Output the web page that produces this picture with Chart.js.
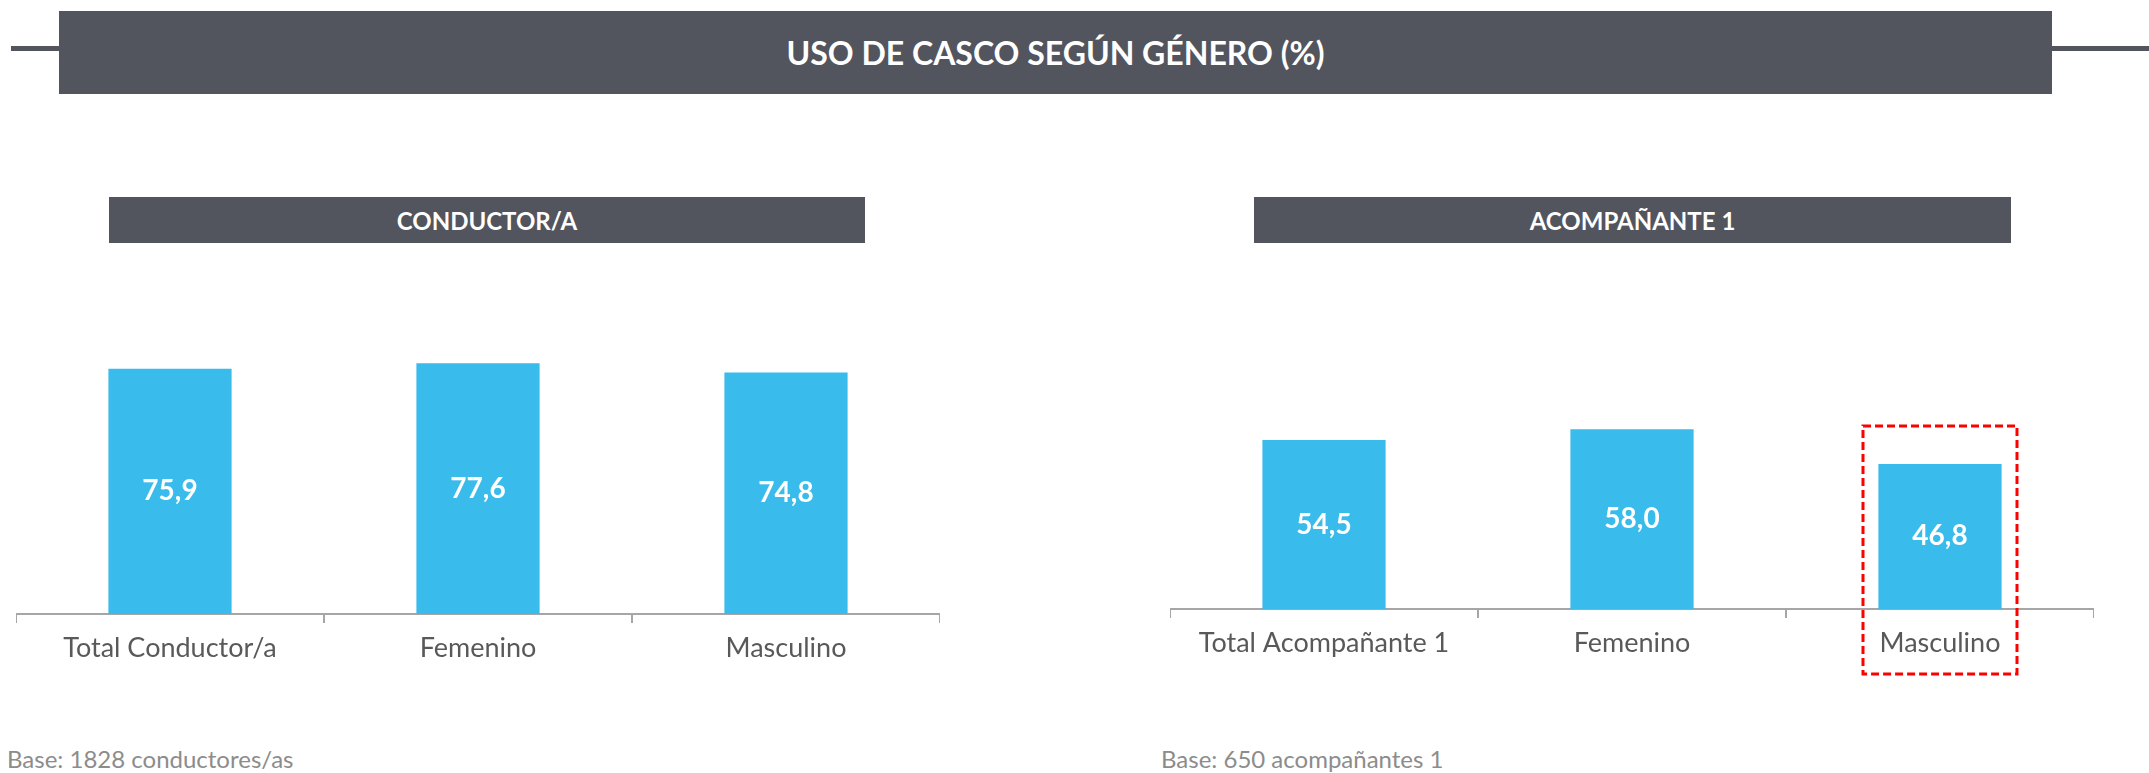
<!DOCTYPE html>
<html>
<head>
<meta charset="utf-8">
<script src="https://cdn.jsdelivr.net/npm/chart.js@4"></script>
<style>
  body { margin: 0; width: 2149px; height: 773px; background: #fff; position: relative; overflow: hidden; font-family: Lato, sans-serif; }
  .rule { position: absolute; top: 46px; height: 5px; background: #52545e; }
  .banner { position: absolute; background: #52545e; color: #fff; font-weight: bold; display: flex; align-items: center; justify-content: center; }
  .base { position: absolute; top: 744px; font-size: 24px; color: #8c8c8c; }
  canvas { position: absolute; }
</style>
</head>
<body>
<div class="rule" style="left:11px;width:50px"></div>
<div class="rule" style="left:2050px;width:99px"></div>
<div class="banner" style="left:59px;top:11px;width:1993px;height:83px;font-size:32px">USO DE CASCO SEGÚN GÉNERO (%)</div>
<div class="banner" style="left:109px;top:197px;width:756px;height:46px;font-size:24px">CONDUCTOR/A</div>
<div class="banner" style="left:1254px;top:197px;width:757px;height:46px;font-size:24px">ACOMPAÑANTE 1</div>
<div class="base" style="left:7px">Base: 1828 conductores/as</div>
<div class="base" style="left:1161px">Base: 650 acompañantes 1</div>

<div style="position:absolute;left:16px;top:291px;width:924px;height:395px"><canvas id="conductorChart"></canvas></div>
<div style="position:absolute;left:1170px;top:299px;width:924px;height:382px"><canvas id="acompChart"></canvas></div>

<script>
const conductorLabels = ['Total Conductor/a', 'Femenino', 'Masculino'];
const conductorValues = [75.9, 77.6, 74.8];
const acompLabels = ['Total Acompañante 1', 'Femenino', 'Masculino'];
const acompValues = [54.5, 58.0, 46.8];
const highlightIndex = 2; // Masculino, acompañante

// white value labels in the middle of each bar
const valueLabels = {
    id: 'valueLabels',
    afterDatasetsDraw(chart) {
        const ctx = chart.ctx;
        const bars = chart.getDatasetMeta(0).data;
        ctx.save();
        ctx.fillStyle = '#ffffff';
        ctx.font = 'bold 28px Lato';
        ctx.textAlign = 'center';
        ctx.textBaseline = 'middle';
        bars.forEach((bar, i) => {
            const v = chart.data.datasets[0].data[i];
            ctx.fillText(v.toFixed(1).replace('.', ','), bar.x, (bar.y + bar.base) / 2);
        });
        ctx.restore();
    }
};

// red dashed box around one category
const highlightBox = {
    id: 'highlightBox',
    afterDraw(chart, args, opts) {
        if (opts.index === undefined) return;
        const x = chart.scales.x;
        const bar = chart.getDatasetMeta(0).data[opts.index];
        const half = (x.width / chart.data.labels.length) * 0.25;
        const cx = x.getPixelForValue(opts.index);
        const ctx = chart.ctx;
        ctx.save();
        ctx.strokeStyle = '#ff0000';
        ctx.lineWidth = 3;
        ctx.setLineDash([8, 4]);
        ctx.strokeRect(cx - half, bar.y - 38, half * 2, chart.chartArea.bottom + 65 - (bar.y - 38));
        ctx.restore();
    }
};

function makeChart(id, labels, values, boxIndex) {
    const ctx = document.getElementById(id).getContext('2d');
    return new Chart(ctx, {
        type: 'bar',
        data: {
            labels: labels,
            datasets: [{
                data: values,
                backgroundColor: '#39bbeb',
                categoryPercentage: 1,
                barPercentage: 0.4
            }]
        },
        options: {
            responsive: true,
            maintainAspectRatio: false,
            animation: false,
            layout: { padding: { top: 0, bottom: 12, left: 0, right: 0 } },
            plugins: {
                legend: { display: false },
                tooltip: { enabled: false },
                highlightBox: { index: boxIndex }
            },
            scales: {
                y: { display: false, min: 0, max: 100 },
                x: {
                    afterFit: (scale) => { scale.height = 60; },
                    border: { display: true, color: '#a6a6a6', width: 2 },
                    grid: { offset: true, drawOnChartArea: false, drawTicks: true, tickLength: 9, color: '#a6a6a6', lineWidth: 2 },
                    ticks: { color: '#595959', font: { family: 'Lato', size: 27 }, padding: 9, maxRotation: 0 }
                }
            }
        },
        plugins: [valueLabels, highlightBox]
    });
}

makeChart('conductorChart', conductorLabels, conductorValues);
makeChart('acompChart', acompLabels, acompValues, highlightIndex);
</script>
</body>
</html>
